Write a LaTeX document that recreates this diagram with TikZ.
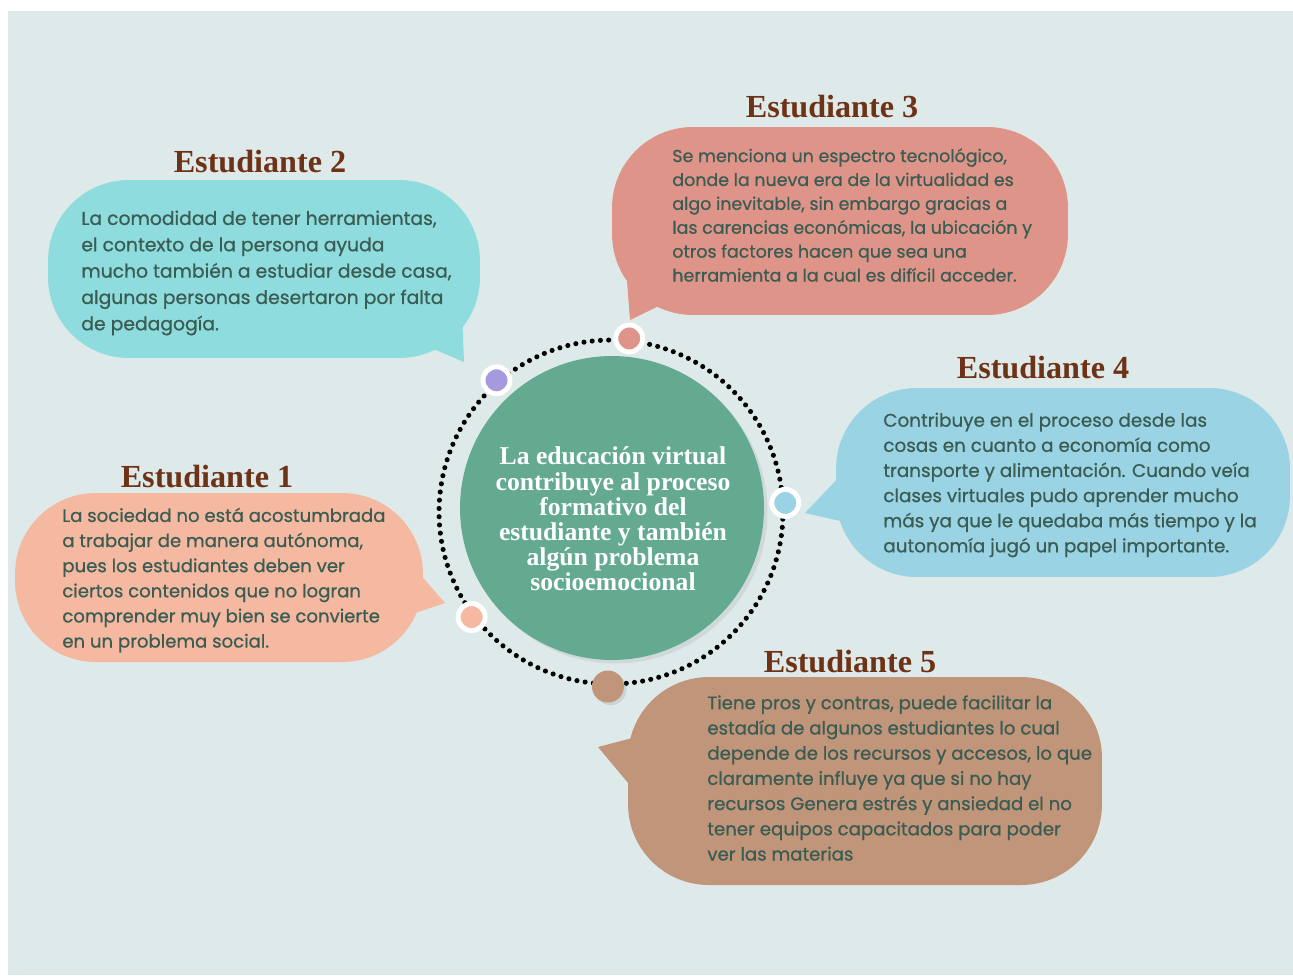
\documentclass[tikz,border=0pt]{standalone}
\usepackage{fontspec}
\setmainfont{Liberation Serif}
\newfontfamily\bodyfont[FakeBold=0.7]{Poppins}
\usetikzlibrary{shadows}

\definecolor{bgpaper}{RGB}{222,233,233}
\definecolor{bubcyan}{RGB}{143,220,222}
\definecolor{bubsalmon}{RGB}{222,148,136}
\definecolor{bubblue}{RGB}{154,211,227}
\definecolor{bubpeach}{RGB}{244,185,160}
\definecolor{bubtan}{RGB}{192,149,122}
\definecolor{hubgreen}{RGB}{100,170,145}
\definecolor{dotpurple}{RGB}{165,154,222}
\definecolor{headbrown}{RGB}{110,50,22}
\definecolor{bodytxt}{RGB}{58,92,82}

\begin{document}
\begin{tikzpicture}[x=0.02cm, y=-0.02cm,
    bubble/.style={rectangle, rounded corners=46pt, inner sep=0pt},
    heading/.style={font=\bfseries\fontsize{18.3}{20}\selectfont, text=headbrown, inner sep=0pt},
    body/.style={anchor=west, align=left, inner sep=0pt, text=bodytxt},
    hub/.style={circle, fill=hubgreen, minimum size=6.08cm, inner sep=0pt,
                drop shadow={shadow xshift=2pt, shadow yshift=-2pt, opacity=0.15}},
    dotring/.style={circle, draw=black, line width=2.9pt, dash pattern=on 0pt off 4.7pt,
                    line cap=round, minimum size=6.88cm, inner sep=0pt},
    dot/.style={circle, draw=white, line width=2.8pt, minimum size=0.54cm, inner sep=0pt,
                drop shadow={shadow xshift=1pt, shadow yshift=-1pt, opacity=0.2}}
]
% paper
\fill[white] (0,0) rectangle (1293,975);
\fill[bgpaper] (8,11) rectangle (1293,975);
\useasboundingbox (0,0) rectangle (1293,975);

% speech bubbles
\node[bubble, fill=bubcyan, minimum width=8.64cm, minimum height=3.56cm] (b2) at (264,269) {};
\fill[bubcyan] (422,344) -- (464,362) -- (462,312) -- cycle;
\node[bubble, fill=bubsalmon, minimum width=9.12cm, minimum height=3.76cm] (b3) at (840,221) {};
\fill[bubsalmon] (626,268) -- (630,320) -- (665,303) -- cycle;
\node[bubble, fill=bubblue, minimum width=9.08cm, minimum height=3.78cm] (b4) at (1063,482.5) {};
\fill[bubblue] (842,474) -- (805,513) -- (845,522) -- cycle;
\node[bubble, fill=bubpeach, minimum width=8.16cm, minimum height=3.38cm] (b1) at (219,577.5) {};
\fill[bubpeach] (418,572) -- (445,603) -- (412,614) -- cycle;
\node[bubble, fill=bubtan, minimum width=9.48cm, minimum height=4.16cm] (b5) at (865,781) {};
\fill[bubtan] (640,736) -- (598,747) -- (634,790) -- cycle;

% headings
\node[heading] (h2) at (260,162) {Estudiante 2};
\node[heading] (h3) at (832,107) {Estudiante 3};
\node[heading] (h4) at (1043,368) {Estudiante 4};
\node[heading] (h1) at (207,477) {Estudiante 1};
\node[heading] (h5) at (850,662) {Estudiante 5};

% bubble texts
\node[body, font=\bodyfont\fontsize{10.68}{15}\selectfont] (t2) at (81,273)
  {La comodidad de tener herramientas,\\el contexto de la persona ayuda\\mucho también a estudiar desde casa,\\algunas personas desertaron por falta\\de pedagogía.};
\node[body, font=\bodyfont\fontsize{9.92}{13.6}\selectfont] (t3) at (672,215)
  {Se menciona un espectro tecnológico,\\donde la nueva era de la virtualidad es\\algo inevitable, sin embargo gracias a\\las carencias económicas, la ubicación y\\otros factores hacen que sea una\\herramienta a la cual es difícil acceder.};
\node[body, font=\bodyfont\fontsize{10.45}{14.3}\selectfont] (t4) at (883,485)
  {Contribuye en el proceso desde las\\cosas en cuanto a economía como\\transporte y alimentación. Cuando veía\\clases virtuales pudo aprender mucho\\más ya que le quedaba más tiempo y la\\autonomía jugó un papel importante.};
\node[body, font=\bodyfont\fontsize{10.3}{14.3}\selectfont] (t1) at (62,580)
  {La sociedad no está acostumbrada\\a trabajar de manera autónoma,\\pues los estudiantes deben ver\\ciertos contenidos que no logran\\comprender muy bien se convierte\\en un problema social.};
\node[body, font=\bodyfont\fontsize{10.34}{14.35}\selectfont] (t5) at (707,778)
  {Tiene pros y contras, puede facilitar la\\estadía de algunos estudiantes lo cual\\depende de los recursos y accesos, lo que\\claramente influye ya que si no hay\\recursos Genera estrés y ansiedad el no\\tener equipos capacitados para poder\\ver las materias};

% centre
\node[dotring] (ring) at (611,512) {};
\node[hub] (hub) at (612,508) {};
\node[align=center, text=white, font=\bfseries\fontsize{14.6}{14.3}\selectfont, inner sep=0pt] (main) at (613,519)
  {La educación virtual\\contribuye al proceso\\formativo del\\estudiante y también\\algún problema\\socioemocional};

% dots on the ring
\node[dot, fill=bubsalmon] (d3) at (ring.84) {};
\node[dot, fill=dotpurple] (d2) at (ring.131) {};
\node[dot, fill=bubblue] (d4) at (ring.3) {};
\node[dot, fill=bubpeach] (d1) at (ring.217) {};
\node[circle, fill=bubtan, minimum size=0.64cm, inner sep=0pt,
      drop shadow={shadow xshift=1.5pt, shadow yshift=-1.5pt, opacity=0.2}] (d5) at (ring.269) {};
\end{tikzpicture}
\end{document}
